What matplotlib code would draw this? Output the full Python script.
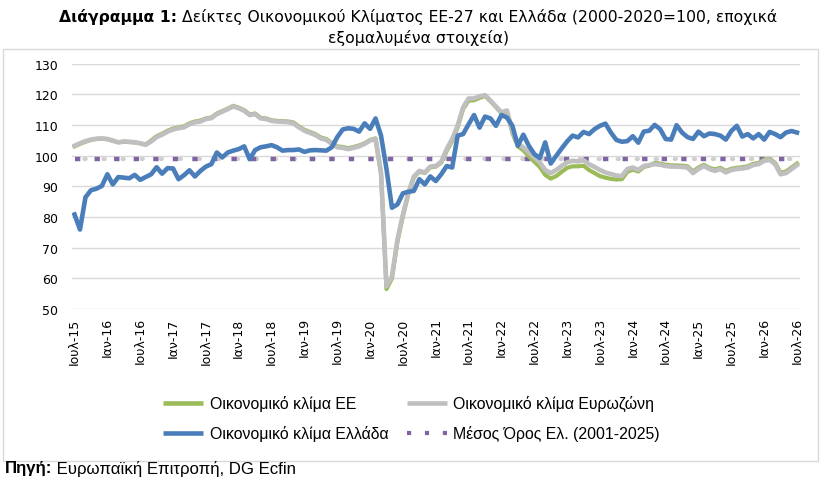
import matplotlib
matplotlib.use('Agg')
import matplotlib.pyplot as plt
from matplotlib.lines import Line2D
from matplotlib.patches import Rectangle

# ---------------- data (monthly, Jul-2015 ... Jul-2026) ----------------
GR = [80.8, 75.9, 86.4, 88.7, 89.2, 90.1, 93.9, 90.6, 93.0, 92.8,
      92.6, 93.7, 92.1, 93.0, 93.9, 96.2, 94.1, 95.9, 95.8, 92.3,
      93.6, 95.2, 93.2, 95.0, 96.4, 97.2, 101.0, 99.4, 101.0, 101.6,
      102.1, 103.0, 98.8, 101.8, 102.7, 103.0, 103.4, 102.7, 101.6, 101.8,
      101.8, 102.0, 101.2, 101.7, 101.8, 101.7, 101.6, 102.7, 106.0, 108.5,
      108.9, 108.7, 107.8, 110.5, 108.7, 112.1, 106.5, 95.6, 83.0, 84.1,
      87.7, 88.2, 88.5, 92.3, 90.6, 93.2, 91.7, 93.9, 96.6, 96.1,
      106.5, 107.0, 110.2, 113.2, 109.1, 112.7, 112.1, 109.7, 113.2, 112.4,
      109.7, 103.2, 106.8, 103.2, 100.5, 99.2, 104.3, 97.4, 99.9, 102.3,
      104.6, 106.5, 105.9, 107.7, 107.0, 108.6, 109.7, 110.4, 107.5, 105.1,
      104.5, 104.7, 106.3, 104.2, 107.8, 108.1, 110.0, 108.6, 105.4, 105.2,
      109.9, 107.5, 106.0, 105.4, 107.8, 106.3, 107.2, 107.0, 106.5, 105.2,
      108.0, 109.7, 106.2, 107.0, 105.6, 107.0, 105.2, 107.7, 107.0, 106.0,
      107.5, 108.0, 107.5]

EZ = [103.2, 104.0, 104.7, 105.2, 105.5, 105.6, 105.4, 104.9, 104.3, 104.6,
      104.5, 104.3, 104.0, 103.5, 104.6, 106.0, 106.8, 107.8, 108.5, 108.9,
      109.2, 110.2, 110.8, 111.1, 111.9, 112.2, 113.5, 114.3, 115.1, 116.0,
      115.4, 114.6, 113.2, 113.5, 112.1, 111.9, 111.3, 111.1, 111.0, 110.9,
      110.5, 109.2, 108.1, 107.4, 106.7, 105.6, 105.1, 103.8, 102.7, 102.5,
      102.1, 102.5, 103.0, 103.8, 104.9, 105.4, 94.5, 57.4, 60.7, 72.6,
      80.8, 87.9, 93.2, 95.0, 94.5, 96.4, 96.6, 98.0, 102.1, 105.4,
      109.8, 115.7, 118.6, 118.6, 119.3, 119.7, 117.9, 116.0, 114.1, 114.7,
      108.0, 103.8, 102.7, 101.0, 99.4, 97.8, 95.3, 94.3, 95.3, 96.6,
      97.8, 98.3, 98.1, 98.5, 97.2, 96.3, 95.3, 94.5, 94.0, 93.5,
      93.3, 95.6, 96.1, 95.3, 96.6, 96.9, 97.2, 97.0, 96.6, 96.4,
      96.4, 96.3, 96.1, 94.3, 95.6, 96.6, 95.6, 95.0, 95.6, 94.5,
      95.3, 95.6, 95.8, 96.1, 96.9, 97.2, 98.3, 98.6, 97.2, 93.9,
      94.3, 95.6, 96.9]

EU = [103.0, 103.8, 104.5, 105.1, 105.4, 105.5, 105.3, 104.8, 104.3, 104.5,
      104.4, 104.3, 104.0, 103.6, 104.9, 106.3, 107.1, 108.1, 108.8, 109.2,
      109.5, 110.5, 111.1, 111.4, 112.1, 112.4, 113.7, 114.5, 115.3, 116.2,
      115.6, 114.8, 113.4, 113.7, 112.3, 112.1, 111.5, 111.3, 111.2, 111.1,
      110.8, 109.5, 108.4, 107.7, 107.0, 105.9, 105.4, 104.1, 103.0, 102.8,
      102.4, 102.8, 103.3, 104.0, 105.1, 105.6, 94.0, 56.5, 60.0, 72.0,
      80.3, 87.5, 92.9, 94.8, 94.3, 96.2, 96.4, 97.7, 101.5, 104.8,
      109.2, 115.2, 117.9, 118.0, 118.8, 119.4, 117.7, 115.8, 113.8, 114.4,
      107.3, 103.0, 101.7, 99.8, 98.0, 96.3, 93.7, 92.5, 93.3, 94.7,
      96.0, 96.5, 96.5, 96.7, 95.3, 94.3, 93.3, 92.8, 92.4, 92.2,
      92.3, 94.7, 95.4, 94.8, 96.3, 96.7, 97.6, 97.4, 97.0, 96.8,
      96.8, 96.7, 96.5, 94.8, 96.1, 97.0, 96.0, 95.5, 96.0, 95.0,
      95.7, 96.0, 96.2, 96.5, 97.3, 97.6, 98.7, 98.9, 97.6, 94.4,
      94.8, 96.1, 97.4]

GR_MEAN = 99.0  # Μέσος Όρος Ελ. (2001-2025)

TICK_LABELS = ['Ιουλ-15', 'Ιαν-16', 'Ιουλ-16', 'Ιαν-17', 'Ιουλ-17', 'Ιαν-18',
               'Ιουλ-18', 'Ιαν-19', 'Ιουλ-19', 'Ιαν-20', 'Ιουλ-20', 'Ιαν-21',
               'Ιουλ-21', 'Ιαν-22', 'Ιουλ-22', 'Ιαν-23', 'Ιουλ-23', 'Ιαν-24',
               'Ιουλ-24', 'Ιαν-25', 'Ιουλ-25', 'Ιαν-26', 'Ιουλ-26']
TICK_STEP = 6
Y_TICKS = [50, 60, 70, 80, 90, 100, 110, 120, 130]

SERIES_NAMES = ['Οικονομικό κλίμα ΕΕ', 'Οικονομικό κλίμα Ευρωζώνη',
                'Οικονομικό κλίμα Ελλάδα', 'Μέσος Όρος Ελ. (2001-2025)']

# ---------------- colours ----------------
C_EU = '#9bbb59'
C_EZ = '#bfbfbf'
C_GR = '#4a7ebb'
C_MEAN = '#8064a2'
C_GRID = '#d9d9d9'

W, H = 839, 481
fig = plt.figure(figsize=(W / 100, H / 100), dpi=100)


def fx(px):
    return px / W


def fy(py):
    return 1 - py / H


# outer chart frame
fig.add_artist(Rectangle((fx(3), fy(462)), fx(818) - fx(3), fy(50) - fy(462),
                         transform=fig.transFigure, fill=False,
                         edgecolor='#d9d9d9', lw=1.0, zorder=0))

ax = fig.add_axes([fx(72), fy(310), fx(800) - fx(72), fy(64.5) - fy(310)])
n = len(GR)
x = list(range(n))

ax.plot(x, EU, color=C_EU, lw=3.0, solid_joinstyle='round', zorder=3)
ax.plot(x, EZ, color=C_EZ, lw=3.3, solid_joinstyle='round', zorder=4)
ax.plot(x, GR, color=C_GR, lw=3.3, solid_joinstyle='round', zorder=5)
mean_vals = [GR_MEAN] * n
# shadow dots between the purple squares
ax.plot(x, mean_vals, color='#cfcfcf', lw=3.0, dash_capstyle='round',
        linestyle=(2.3, (0.3, 4.27)), zorder=2)
ax.plot(x, mean_vals, color=C_MEAN, lw=3.2, dash_capstyle='butt',
        linestyle=(0, (1.2, 3.2)), zorder=2.5)

ax.set_ylim(50, 130)
ax.set_xlim(-0.46, n - 1 + 0.55)
ax.set_yticks(Y_TICKS)
ax.set_xticks(list(range(0, n, TICK_STEP)))
ax.set_xticklabels(TICK_LABELS, rotation=90, fontsize=9, family='DejaVu Sans',
                   color='#000000')
for lab in ax.get_yticklabels():
    lab.set_fontsize(9)
    lab.set_family('DejaVu Sans')
ax.tick_params(axis='both', length=0)
ax.tick_params(axis='y', pad=10)
ax.tick_params(axis='x', pad=6)
ax.grid(axis='y', color=C_GRID, lw=1.0, zorder=0)
ax.set_axisbelow(True)
for s in ax.spines.values():
    s.set_visible(False)

renderer = fig.canvas.get_renderer()

# ---------------- title (two lines, first part bold) ----------------
t_bold = fig.text(0, fy(17), 'Διάγραμμα 1:', fontsize=10, fontweight='bold',
                  family='DejaVu Sans', va='center', ha='left')
t_rest = fig.text(0, fy(17), ' Δείκτες Οικονομικού Κλίματος ΕΕ-27 και Ελλάδα (2000-2020=100, εποχικά',
                  fontsize=10, family='DejaVu Sans', va='center', ha='left')
wb = t_bold.get_window_extent(renderer=renderer).width
wr = t_rest.get_window_extent(renderer=renderer).width
scale = 713 / (wb + wr)
t_bold.set_fontsize(10 * scale)
t_rest.set_fontsize(10 * scale)
wb = t_bold.get_window_extent(renderer=renderer).width
wr = t_rest.get_window_extent(renderer=renderer).width
x0 = 418.5 - (wb + wr) / 2
t_bold.set_x(fx(x0))
t_rest.set_x(fx(x0 + wb))
fig.text(fx(418.5), fy(38), 'εξομαλυμένα στοιχεία)', fontsize=10 * scale,
         family='DejaVu Sans', va='center', ha='center')

# ---------------- legend (drawn in figure coordinates) ----------------
leg_font = 'Liberation Sans'
probe = fig.text(0, 0, SERIES_NAMES[0], fontsize=10, family=leg_font)
w = probe.get_window_extent(renderer=renderer).width
leg_size = 10 * 147 / w
probe.remove()

rows = [404, 434]
cols = [(163, 203, 210), (407, 447, 453)]
entries = [(0, 0, C_EU, 'solid'), (0, 1, C_EZ, 'solid'),
           (1, 0, C_GR, 'solid'), (1, 1, C_MEAN, 'dots')]
for k, (r, c, col, style) in enumerate(entries):
    x1, x2, xt = cols[c]
    yy = fy(rows[r])
    name = SERIES_NAMES[k]
    if style == 'solid':
        fig.add_artist(Line2D([fx(x1), fx(x2)], [yy, yy], color=col, lw=3.3,
                              transform=fig.transFigure, solid_capstyle='butt'))
    else:
        fig.add_artist(Line2D([fx(x1), fx(x2)], [yy, yy], color=col, lw=3.0,
                              transform=fig.transFigure, dash_capstyle='butt',
                              linestyle=(0, (1.0, 3.3))))
    fig.text(fx(xt), yy, name, fontsize=leg_size, family=leg_font,
             va='center', ha='left')

# ---------------- source ----------------
s_bold = fig.text(fx(5), fy(469), 'Πηγή:', fontsize=10, fontweight='bold',
                  family=leg_font, va='center', ha='left')
s_rest = fig.text(0, fy(469), ' Ευρωπαϊκή Επιτροπή, DG Ecfin', fontsize=10,
                  family=leg_font, va='center', ha='left')
wsb = s_bold.get_window_extent(renderer=renderer).width
wsr = s_rest.get_window_extent(renderer=renderer).width
ssc = 292 / (wsb + wsr)
s_bold.set_fontsize(10 * ssc)
s_rest.set_fontsize(10 * ssc)
wsb = s_bold.get_window_extent(renderer=renderer).width
s_rest.set_x(fx(5 + wsb))

fig.savefig('out.png', dpi=100)
